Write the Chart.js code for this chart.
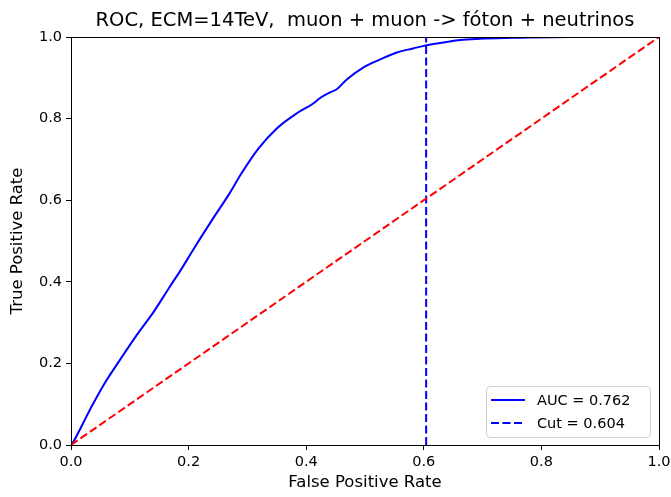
<!DOCTYPE html>
<html>
<head>
<meta charset="utf-8">
<script src="https://cdn.jsdelivr.net/npm/chart.js@4.4.1/dist/chart.umd.min.js"></script>
<style>
  html, body { margin: 0; padding: 0; background: #fff; }
  #wrap { width: 671px; height: 497px; position: relative; }
</style>
</head>
<body>
<div id="wrap"><canvas id="c" width="671" height="497"></canvas></div>
<script>
// ---- data ----
const chartTitle = "ROC, ECM=14TeV,  muon + muon -> fóton + neutrinos";
const xAxisTitle = "False Positive Rate";
const yAxisTitle = "True Positive Rate";
const fpr = [0, 0.004, 0.032, 0.055, 0.083, 0.112, 0.140, 0.168, 0.185, 0.211, 0.242, 0.268, 0.290, 0.319, 0.350, 0.384, 0.412, 0.423, 0.440, 0.452, 0.469, 0.497, 0.526, 0.554, 0.582, 0.605, 0.639, 0.667, 0.696, 0.752, 0.85, 1.0];
const tpr = [0, 0.008, 0.086, 0.146, 0.208, 0.270, 0.325, 0.388, 0.425, 0.486, 0.556, 0.613, 0.666, 0.727, 0.776, 0.813, 0.837, 0.850, 0.864, 0.872, 0.896, 0.925, 0.945, 0.962, 0.972, 0.980, 0.988, 0.993, 0.996, 0.998, 1.0, 1.0];
const aucLabel = "AUC = 0.762";
const cutValue = 0.604;
const cutLabel = "Cut = 0.604";
const diagX = [0, 1];
const diagY = [0, 1];
const tickValues = [0, 0.2, 0.4, 0.6, 0.8, 1.0];

const FONT = "'DejaVu Sans', sans-serif";

const rocPts = fpr.map((x, i) => ({x: x, y: tpr[i]}));
const cutPts = [{x: cutValue, y: 0}, {x: cutValue, y: 1}];
const diagPts = diagX.map((x, i) => ({x: x, y: diagY[i]}));

const framePlugin = {
  id: 'frame',
  afterDatasetsDraw(chart) {
    const {ctx, chartArea: a} = chart;
    ctx.save();
    ctx.strokeStyle = '#000';
    ctx.lineWidth = 1;
    ctx.strokeRect(Math.round(a.left) + 0.5, Math.round(a.top) + 0.5, Math.round(a.right - a.left), Math.round(a.bottom - a.top));
    ctx.restore();
  }
};

const titlePlugin = {
  id: 'mtitle',
  afterDraw(chart) {
    const {ctx, chartArea: a} = chart;
    ctx.save();
    ctx.fillStyle = '#000';
    ctx.font = "19.5px " + FONT;
    ctx.textAlign = 'center';
    ctx.textBaseline = 'alphabetic';
    ctx.fillText(chartTitle, (a.left + a.right) / 2, 26);
    ctx.restore();
  }
};

const legendPlugin = {
  id: 'mlegend',
  afterDraw(chart) {
    const {ctx} = chart;
    const ds = chart.data.datasets.filter(d => d.showInLegend);
    const x0 = 486.5, y0 = 386.5, w = 164, h = 51, r = 4;
    ctx.save();
    ctx.globalAlpha = 0.8;
    ctx.fillStyle = '#fff';
    ctx.beginPath();
    ctx.roundRect(x0, y0, w, h, r);
    ctx.fill();
    ctx.globalAlpha = 1;
    ctx.strokeStyle = '#d0d0d0';
    ctx.lineWidth = 1;
    ctx.stroke();
    ds.forEach((d, i) => {
      const yy = 400 + i * 23;
      ctx.strokeStyle = d.borderColor;
      ctx.lineWidth = d.borderWidth;
      ctx.setLineDash(d.borderDash || []);
      ctx.beginPath();
      ctx.moveTo(491, yy);
      ctx.lineTo(525, yy);
      ctx.stroke();
      ctx.setLineDash([]);
      ctx.fillStyle = '#000';
      ctx.font = "14.5px " + FONT;
      ctx.textAlign = 'left';
      ctx.textBaseline = 'middle';
      ctx.fillText(d.label, 537, yy + 1);
    });
    ctx.restore();
  }
};

const tickCfg = {
  color: '#000',
  font: {family: FONT, size: 14.5},
  padding: 4,
  autoSkip: false,
  maxRotation: 0,
  callback: v => Number(v).toFixed(1)
};
const gridCfg = {
  display: true,
  drawOnChartArea: false,
  drawTicks: true,
  tickLength: 5,
  tickColor: '#000',
  color: '#000'
};

new Chart(document.getElementById('c'), {
  type: 'scatter',
  data: {
    datasets: [
      {label: aucLabel, data: rocPts, showLine: true, borderColor: '#0000ff', backgroundColor: '#0000ff', borderWidth: 2, pointRadius: 0, cubicInterpolationMode: 'monotone', showInLegend: true, order: 2},
      {label: cutLabel, data: cutPts, showLine: true, borderColor: '#0000ff', backgroundColor: '#0000ff', borderWidth: 2, borderDash: [8, 3.5], pointRadius: 0, showInLegend: true, order: 1},
      {label: 'diag', data: diagPts, showLine: true, borderColor: '#ff0000', backgroundColor: '#ff0000', borderWidth: 2, borderDash: [8, 3.5], pointRadius: 0, showInLegend: false, order: 0}
    ]
  },
  options: {
    responsive: false,
    animation: false,
    devicePixelRatio: 1,
    layout: {padding: {top: 37, right: 12, left: 0, bottom: 0}},
    plugins: {legend: {display: false}, tooltip: {enabled: false}, title: {display: false}},
    scales: {
      x: {
        type: 'linear', min: 0, max: 1,
        border: {display: false},
        grid: gridCfg,
        afterBuildTicks: s => { s.ticks = tickValues.map(v => ({value: v})); },
        afterFit: s => { s.height = 52; s.paddingRight = 0; s.paddingLeft = 0; },
        ticks: tickCfg,
        title: {display: true, text: xAxisTitle, color: '#000', font: {family: FONT, size: 16.5}, padding: {top: 0, bottom: 4}}
      },
      y: {
        type: 'linear', min: 0, max: 1,
        border: {display: false},
        grid: gridCfg,
        afterBuildTicks: s => { s.ticks = tickValues.map(v => ({value: v})); },
        afterFit: s => { s.width = 71; s.paddingTop = 0; s.paddingBottom = 0; },
        ticks: tickCfg,
        title: {display: true, text: yAxisTitle, color: '#000', font: {family: FONT, size: 16.5}, padding: {top: 8, bottom: 0}}
      }
    }
  },
  plugins: [framePlugin, titlePlugin, legendPlugin]
});
</script>
</body>
</html>
